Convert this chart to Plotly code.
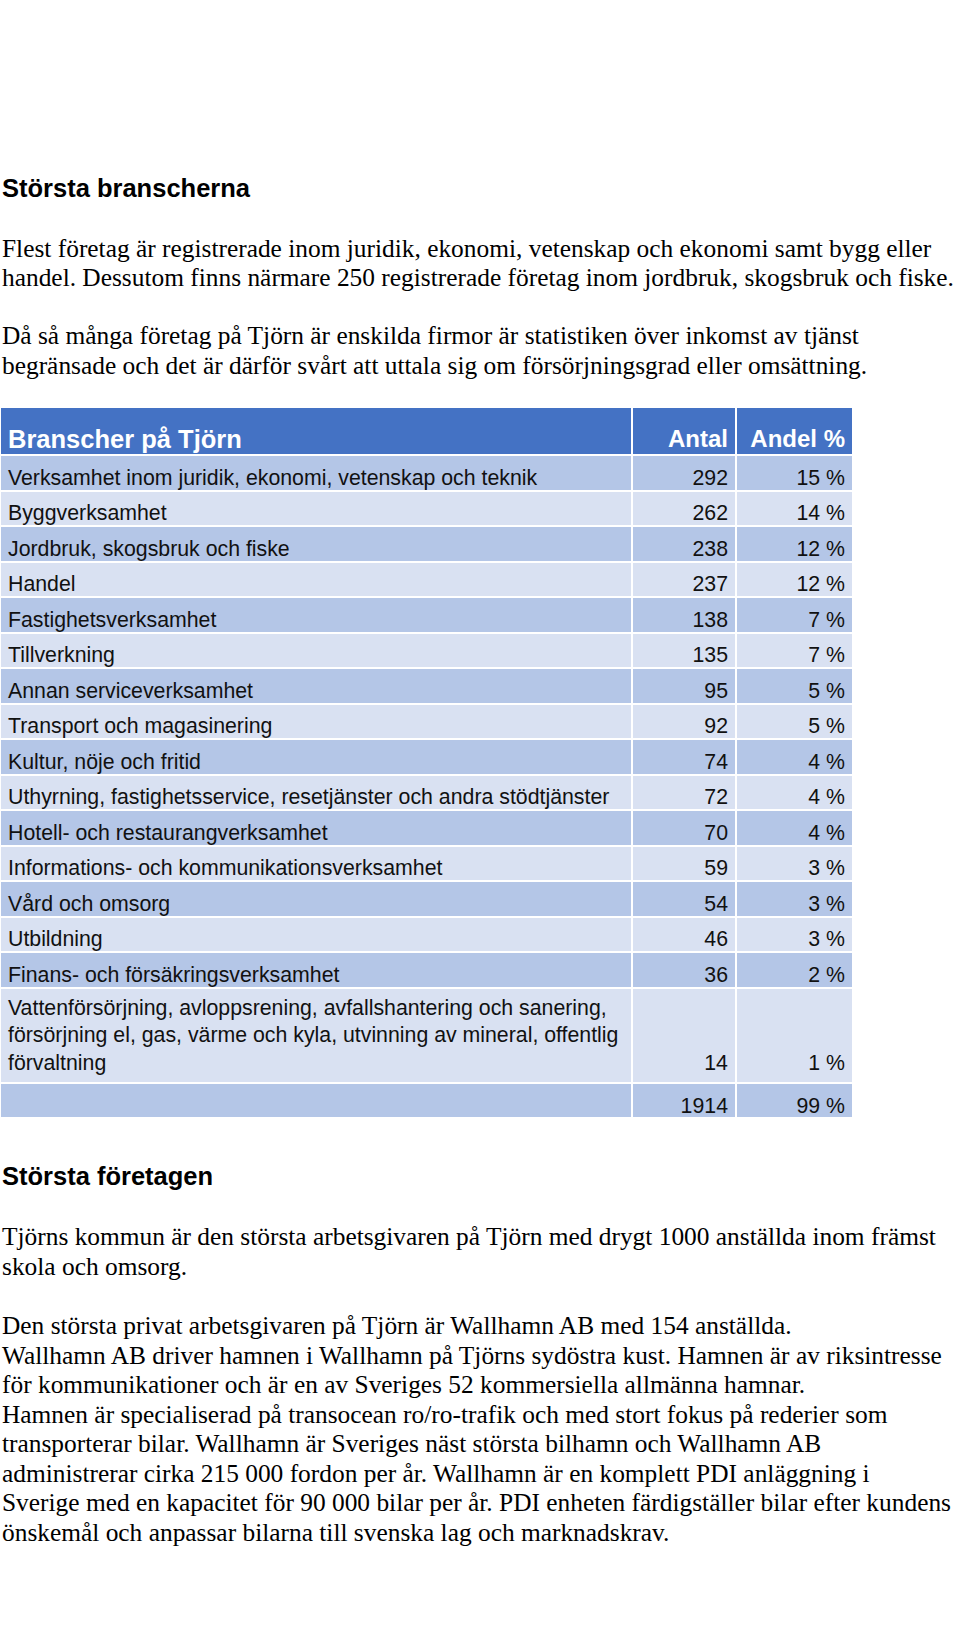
import plotly.graph_objects as go

# table data
branscher = [
    "Verksamhet inom juridik, ekonomi, vetenskap och teknik",
    "Byggverksamhet",
    "Jordbruk, skogsbruk och fiske",
    "Handel",
    "Fastighetsverksamhet",
    "Tillverkning",
    "Annan serviceverksamhet",
    "Transport och magasinering",
    "Kultur, nöje och fritid",
    "Uthyrning, fastighetsservice, resetjänster och andra stödtjänster",
    "Hotell- och restaurangverksamhet",
    "Informations- och kommunikationsverksamhet",
    "Vård och omsorg",
    "Utbildning",
    "Finans- och försäkringsverksamhet",
    "Vattenförsörjning, avloppsrening, avfallshantering och sanering,<br>"
    "försörjning el, gas, värme och kyla, utvinning av mineral, offentlig<br>"
    "förvaltning",
]
antal = [292, 262, 238, 237, 138, 135, 95, 92, 74, 72, 70, 59, 54, 46, 36, 14]
andel = [15, 14, 12, 12, 7, 7, 5, 5, 4, 4, 4, 3, 3, 3, 2, 1]
total_antal = 1914
total_andel = 99

header = ["Branscher på Tjörn", "Antal", "Andel\u00a0%"]

# page text
heading1 = "Största branscherna"
para1 = ["Flest företag är registrerade inom juridik, ekonomi, vetenskap och ekonomi samt bygg eller",
         "handel. Dessutom finns närmare 250 registrerade företag inom jordbruk, skogsbruk och fiske."]
para2 = ["Då så många företag på Tjörn är enskilda firmor är statistiken över inkomst av tjänst",
         "begränsade och det är därför svårt att uttala sig om försörjningsgrad eller omsättning."]
heading2 = "Största företagen"
para3 = ["Tjörns kommun är den största arbetsgivaren på Tjörn med drygt 1000 anställda inom främst",
         "skola och omsorg."]
para4 = ["Den största privat arbetsgivaren på Tjörn är Wallhamn AB med 154 anställda.",
         "Wallhamn AB driver hamnen i Wallhamn på Tjörns sydöstra kust. Hamnen är av riksintresse",
         "för kommunikationer och är en av Sveriges 52 kommersiella allmänna hamnar.",
         "Hamnen är specialiserad på transocean ro/ro-trafik och med stort fokus på rederier som",
         "transporterar bilar. Wallhamn är Sveriges näst största bilhamn och Wallhamn AB",
         "administrerar cirka 215 000 fordon per år. Wallhamn är en komplett PDI anläggning i",
         "Sverige med en kapacitet för 90 000 bilar per år. PDI enheten färdigställer bilar efter kundens",
         "önskemål och anpassar bilarna till svenska lag och marknadskrav."]

W, H = 960, 1652
DARK, LIGHT = "#B4C6E7", "#D9E1F2"


# numbers sit on the last line of a wrapped row
def pad(name, txt):
    return "\u00a0<br>" * name.count("<br>") + txt


col1 = branscher + [""]
col2 = [pad(n, str(a)) for n, a in zip(branscher, antal)] + [str(total_antal)]
col3 = [pad(n, f"{p} %") for n, p in zip(branscher, andel)] + [f"{total_andel} %"]
fills = [DARK if i % 2 == 0 else LIGHT for i in range(len(col1))]

fig = go.Figure(go.Table(
    domain=dict(x=[0, 853 / W], y=[0.3, 1 - 407 / H]),
    columnwidth=[632, 104, 117],
    header=dict(
        values=header,
        align=["left", "right", "right"],
        fill_color="#4472C4",
        line=dict(color="white", width=2),
        font=dict(family="Liberation Sans", size=[25.5, 24, 24], color="white", weight="bold"),
        height=48,
    ),
    cells=dict(
        values=[col1, col2, col3],
        align=["left", "right", "right"],
        fill=dict(color=[fills, fills, fills]),
        line=dict(color="white", width=2),
        font=dict(family="Liberation Sans", size=21.3, color="#111111"),
        height=35.5,
    ),
))

ann = []


def add_lines(lines, y0, step=29.5, size=25.4, family="Liberation Serif", bold=False):
    for i, t in enumerate(lines):
        ann.append(dict(
            x=0, y=1 - (y0 + i * step) / H, xref="paper", yref="paper",
            xanchor="left", yanchor="middle", showarrow=False, text=t,
            font=dict(family=family, size=size, color="black",
                      weight="bold" if bold else "normal"),
        ))


add_lines([heading1], 188, size=25.5, family="Liberation Sans", bold=True)
add_lines(para1, 248)
add_lines(para2, 335)
add_lines([heading2], 1176, size=25.5, family="Liberation Sans", bold=True)
add_lines(para3, 1236)
add_lines(para4, 1325)

fig.update_layout(
    width=W, height=H,
    margin=dict(l=0, r=0, t=0, b=0),
    paper_bgcolor="white", plot_bgcolor="white",
    annotations=ann,
)

# page has no body margin; table text sits low in its cells like the original
js = """
document.body.style.margin = '0';
function lowerCells() {
  document.querySelectorAll('.cell-text').forEach(function (t) {
    if (t.getAttribute('data-low')) return;
    var hdr = (t.style.fill || '').indexOf('255, 255, 255') >= 0;
    var y0 = parseFloat(t.getAttribute('y')) || 0;
    t.setAttribute('y', y0 + (hdr ? 14 : 6));
    t.setAttribute('data-low', '1');
  });
}
lowerCells();
setTimeout(lowerCells, 150);
"""
fig.write_html("out.html", config={"displayModeBar": False}, post_script=js)
